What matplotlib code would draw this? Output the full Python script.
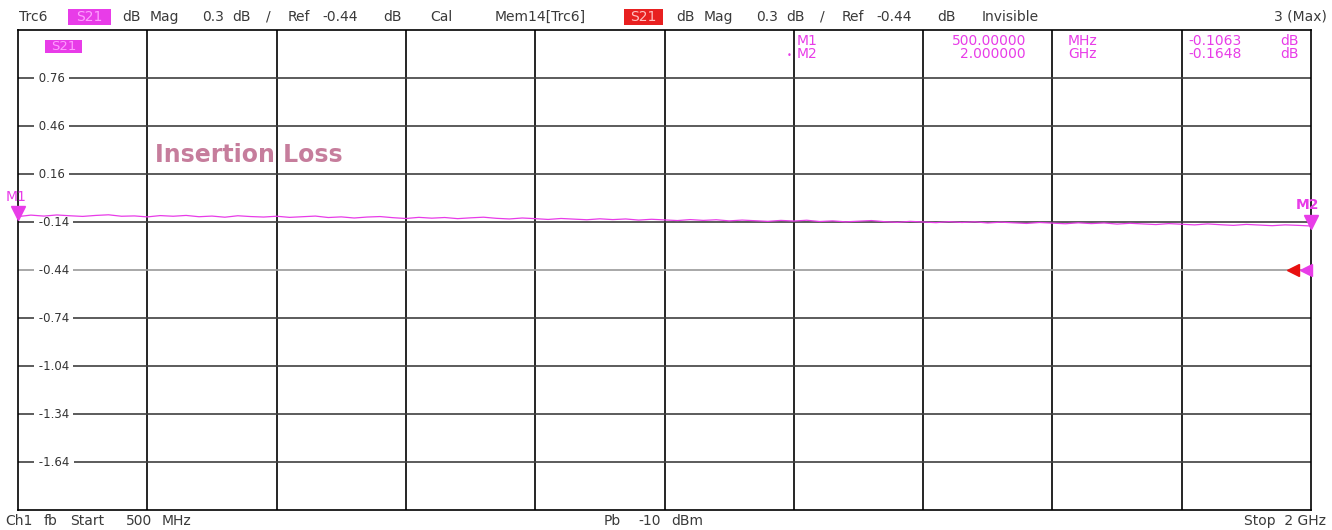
import matplotlib
matplotlib.use("Agg")
import matplotlib.pyplot as plt
from matplotlib.patches import Rectangle

plt.rcParams['font.family'] = ['DejaVu Sans']

# ---- data ----
freq_mhz = list(range(500, 2001, 15))
s21_db = [
    -0.106, -0.097, -0.103, -0.096, -0.101, -0.105, -0.099, -0.095, -0.104, -0.102,
    -0.108, -0.100, -0.104, -0.099, -0.107, -0.103, -0.110, -0.101, -0.106, -0.109,
    -0.104, -0.111, -0.107, -0.103, -0.112, -0.108, -0.115, -0.109, -0.106, -0.113,
    -0.118, -0.111, -0.116, -0.112, -0.119, -0.114, -0.110, -0.117, -0.121, -0.115,
    -0.119, -0.124, -0.118, -0.122, -0.126, -0.120, -0.125, -0.121, -0.128, -0.123,
    -0.127, -0.131, -0.125, -0.130, -0.126, -0.133, -0.128, -0.132, -0.136, -0.130,
    -0.134, -0.129, -0.137, -0.133, -0.139, -0.135, -0.131, -0.138, -0.142, -0.136,
    -0.140, -0.144, -0.138, -0.143, -0.139, -0.146, -0.141, -0.145, -0.149, -0.143,
    -0.147, -0.151, -0.145, -0.150, -0.146, -0.153, -0.148, -0.152, -0.156, -0.150,
    -0.154, -0.158, -0.152, -0.157, -0.161, -0.155, -0.159, -0.163, -0.158, -0.161,
    -0.165,
]
ytick_values = [0.76, 0.46, 0.16, -0.14, -0.44, -0.74, -1.04, -1.34, -1.64]
ref_level = -0.44
y_top, y_bottom = 1.06, -1.94
x_start, x_stop = 500, 2000
marker_names = ["M1", "M2"]
marker_freq = [500, 2000]
marker_val = [-0.1063, -0.1648]
marker_freq_text = ["500.00000", "2.000000"]
marker_unit = ["MHz", "GHz"]

MAG = '#e83ce8'
TXT = '#3a3a3a'
FS = 10
W, H = 1332, 530
fig = plt.figure(figsize=(W / 100, H / 100), dpi=100)


def put(x, y, s, ha='left', size=FS, color=TXT, **kw):
    fig.text(x / W, 1 - y / H, s, ha=ha, va='center', fontsize=size, color=color, **kw)


def box(x0, x1, y0, y1, fc):
    fig.patches.append(Rectangle((x0 / W, 1 - y1 / H), (x1 - x0) / W, (y1 - y0) / H,
                                 transform=fig.transFigure, fc=fc, ec='none', zorder=0))


ax = fig.add_axes([18 / W, (H - 510) / H, (1311 - 18) / W, 480 / H])
ax.set_xlim(x_start, x_stop)
ax.set_ylim(y_bottom, y_top)
ax.set_xticks([])
ax.set_yticks([])
for s in ax.spines.values():
    s.set_color('black')
    s.set_linewidth(1.2)

# grid
for i in range(1, 10):
    ax.axvline(x_start + i * (x_stop - x_start) / 10, color='black', lw=1.2, zorder=1)
for v in ytick_values:
    col = '#999999' if abs(v - ref_level) < 1e-9 else '#404040'
    ax.axhline(v, color=col, lw=1.2, zorder=1)
    ax.text(0.013, v, ' ' + f'{v:.2f}' + ' ', transform=ax.get_yaxis_transform(),
            va='center', ha='left', fontsize=8.5, color='#333333',
            bbox=dict(boxstyle='square,pad=0.05', fc='white', ec='none'), zorder=2)

# trace
ax.plot(freq_mhz, s21_db, color=MAG, lw=0.9, zorder=3)

# markers
for f, v in zip(marker_freq, marker_val):
    ax.plot([f], [v + 0.025], marker='v', color=MAG, ms=10, clip_on=False, zorder=5)
ax.annotate(marker_names[0], (marker_freq[0], marker_val[0]), xytext=(-9, 11),
            textcoords='offset points', color=MAG, fontsize=10, annotation_clip=False)
ax.annotate(marker_names[1], (marker_freq[1], marker_val[1]), xytext=(-11, 12),
            textcoords='offset points', color=MAG, fontsize=10, fontweight='bold',
            annotation_clip=False)

# reference arrows
ax.plot([1979], [ref_level], marker='<', color='#e81010', ms=9, clip_on=False, zorder=5)
ax.plot([1994], [ref_level], marker='<', color=MAG, ms=9, clip_on=False, zorder=5)

# S21 label inside plot
box(45, 82, 40, 53, MAG)
put(63.5, 46.5, 'S21', ha='center', size=9.5, color='#ff9cff', zorder=3)

# Insertion Loss
put(155, 155, 'Insertion Loss', size=17, color='#c67d9c', fontweight='bold')

# header
hy = 17
put(19, hy, 'Trc6')
box(68, 111, 9, 25, MAG)
put(89.5, hy, 'S21', ha='center', color='#ffa0ff')
for x, s in [(122, 'dB'), (150, 'Mag'), (202, '0.3'), (232, 'dB'), (266, '/'),
             (288, 'Ref'), (322, '-0.44'), (383, 'dB'), (430, 'Cal'),
             (495, 'Mem14[Trc6]'),
             (676, 'dB'), (704, 'Mag'), (756, '0.3'), (786, 'dB'), (820, '/'),
             (842, 'Ref'), (876, '-0.44'), (937, 'dB'), (982, 'Invisible')]:
    put(x, hy, s)
box(624, 663, 9, 25, '#e82020')
put(643.5, hy, 'S21', ha='center', color='#ffc0c0')
put(1327, hy, '3 (Max)', ha='right')

# marker table
for row in range(2):
    yy = 41 + row * 13
    put(797, yy, marker_names[row], color=MAG)
    put(1026, yy, marker_freq_text[row], ha='right', color=MAG)
    put(1068, yy, marker_unit[row], color=MAG)
    put(1242, yy, f'{marker_val[row]:.4f}', ha='right', color=MAG)
    put(1299, yy, 'dB', ha='right', color=MAG)
put(789, 55, '•', ha='center', size=6, color=MAG)

# footer
fy = 521
for x, s in [(5, 'Ch1'), (44, 'fb'), (70, 'Start'), (126, '500'), (162, 'MHz'),
             (604, 'Pb'), (638, '-10'), (671, 'dBm')]:
    put(x, fy, s)
put(1326, fy, 'Stop  2 GHz', ha='right')

fig.savefig('out.png', dpi=100, facecolor='white')
